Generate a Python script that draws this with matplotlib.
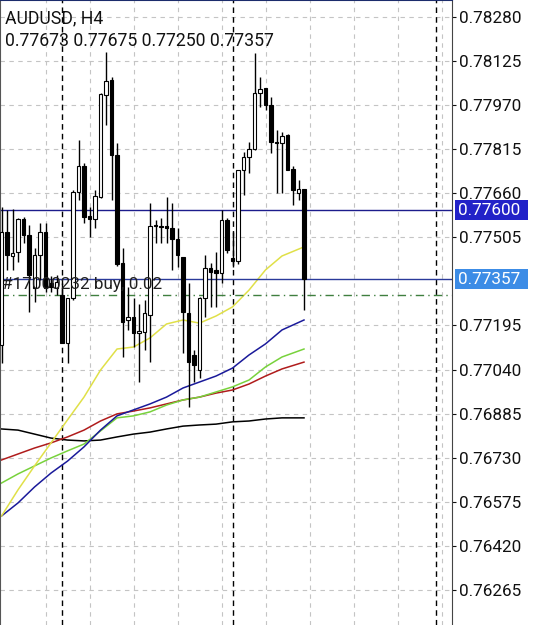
import matplotlib
matplotlib.use("Agg")
import matplotlib.pyplot as plt
import numpy as np
from matplotlib.patches import Rectangle

plt.rcParams['font.family'] = ['Roboto', 'DejaVu Sans']

# AUDUSD H4 candles (open, high, low, close)
opens = [0.77126, 0.77523, 0.77439, 0.77453, 0.77569, 0.77513, 0.77326, 0.77442,
         0.77523, 0.77344, 0.77326, 0.77302, 0.77133, 0.77291, 0.77664, 0.77755,
         0.77580, 0.77569, 0.77646, 0.78005, 0.78058, 0.77794, 0.77414, 0.77214,
         0.77225, 0.77168, 0.77172, 0.77232, 0.77548, 0.77544, 0.77544, 0.77537,
         0.77499, 0.77435, 0.77239, 0.77091, 0.77038, 0.77291, 0.77397, 0.77390,
         0.77379, 0.77565, 0.77432, 0.77421, 0.77741, 0.77787, 0.77815, 0.78012,
         0.78029, 0.77970, 0.77840, 0.77836, 0.77864, 0.77745, 0.77660, 0.77673]
highs = [0.77611, 0.77601, 0.77604, 0.77573, 0.77576, 0.77548, 0.77467, 0.77555,
         0.77555, 0.77369, 0.77372, 0.77344, 0.77291, 0.77671, 0.77847, 0.77766,
         0.77611, 0.77671, 0.78012, 0.78156, 0.78068, 0.77836, 0.77467, 0.77330,
         0.77291, 0.77270, 0.77284, 0.77625, 0.77565, 0.77573, 0.77646, 0.77625,
         0.77537, 0.77435, 0.77344, 0.77109, 0.77295, 0.77442, 0.77414, 0.77453,
         0.77601, 0.77573, 0.77523, 0.77741, 0.77804, 0.77840, 0.78152, 0.78068,
         0.78031, 0.77998, 0.77882, 0.77875, 0.77866, 0.77755, 0.77706, 0.77675]
lows = [0.77063, 0.77390, 0.77390, 0.77418, 0.77485, 0.77242, 0.77277, 0.77355,
        0.77312, 0.77312, 0.77302, 0.77133, 0.77063, 0.77284, 0.77636, 0.77555,
        0.77506, 0.77537, 0.77643, 0.77899, 0.77636, 0.77404, 0.77084, 0.77179,
        0.77119, 0.76996, 0.77109, 0.77066, 0.77485, 0.77485, 0.77485, 0.77390,
        0.77400, 0.77098, 0.76908, 0.76996, 0.77010, 0.77225, 0.77260, 0.77260,
        0.77344, 0.77449, 0.77400, 0.77411, 0.77653, 0.77731, 0.77812, 0.77963,
        0.77952, 0.77801, 0.77660, 0.77660, 0.77741, 0.77618, 0.77636, 0.77250]
closes = [0.77523, 0.77442, 0.77449, 0.77569, 0.77513, 0.77372, 0.77442, 0.77523,
          0.77326, 0.77330, 0.77348, 0.77133, 0.77291, 0.77664, 0.77755, 0.77576,
          0.77569, 0.77650, 0.78008, 0.78054, 0.77794, 0.77411, 0.77207, 0.77225,
          0.77168, 0.77175, 0.77239, 0.77544, 0.77544, 0.77541, 0.77537, 0.77499,
          0.77442, 0.77242, 0.77066, 0.77056, 0.77291, 0.77397, 0.77383, 0.77379,
          0.77565, 0.77460, 0.77421, 0.77741, 0.77787, 0.77815, 0.78012, 0.78026,
          0.77970, 0.77840, 0.77836, 0.77861, 0.77741, 0.77671, 0.77674, 0.77357]

# moving averages read at these bar indices
ma_idx = [0, 3, 6, 9, 12, 15, 18, 21, 24, 27, 30, 33, 36, 39, 42, 45, 48, 51, 55]
ma_yellow = [0.76525, 0.76617, 0.76701, 0.76782, 0.76863, 0.76943, 0.77038, 0.77112,
             0.77119, 0.77151, 0.77200, 0.77214, 0.77203, 0.77228, 0.77260, 0.77319,
             0.77390, 0.77439, 0.77471]
ma_blue = [0.76525, 0.76571, 0.76627, 0.76676, 0.76718, 0.76768, 0.76827, 0.76877,
           0.76898, 0.76919, 0.76943, 0.76975, 0.76996, 0.77017, 0.77045, 0.77091,
           0.77130, 0.77179, 0.77214]
ma_green = [0.76641, 0.76673, 0.76701, 0.76729, 0.76754, 0.76778, 0.76824, 0.76870,
            0.76877, 0.76891, 0.76915, 0.76933, 0.76943, 0.76961, 0.76979, 0.77003,
            0.77049, 0.77084, 0.77112]
ma_red = [0.76722, 0.76743, 0.76764, 0.76782, 0.76803, 0.76827, 0.76859, 0.76884,
          0.76894, 0.76905, 0.76919, 0.76933, 0.76943, 0.76957, 0.76968, 0.76989,
          0.77017, 0.77042, 0.77066]
ma_black = [0.76831, 0.76827, 0.76813, 0.76799, 0.76792, 0.76789, 0.76792, 0.76803,
            0.76813, 0.76820, 0.76831, 0.76841, 0.76845, 0.76848, 0.76856, 0.76859,
            0.76866, 0.76870, 0.76870]

price_ticks = [0.78280, 0.78125, 0.77970, 0.77815, 0.77660, 0.77505, 0.77195,
               0.77040, 0.76885, 0.76730, 0.76575, 0.76420, 0.76265]
week_starts = [11, 42, 79]
level_line = 0.77600
bid = 0.77357
order_price = 0.77302
order_text = "#17000232 buy, 0.02"
title = "AUDUSD, H4"
ohlc_text = "0.77673 0.77675 0.77250 0.77357"

W, H = 542, 625
fig = plt.figure(figsize=(W / 100, H / 100), dpi=100)
ax = fig.add_axes([0, 0, 452 / W, 1])

n = len(opens)
x = np.arange(n)
o = np.array(opens); c = np.array(closes)
hi = np.array(highs); lo = np.array(lows)

# grid
for gx in range(8, 82, 8):
    ax.axvline(gx, color='#c4c4c4', lw=0.8, ls=(0, (4, 4)), zorder=0)
for gy in price_ticks:
    ax.axhline(gy, color='#c4c4c4', lw=0.8, ls=(0, (4, 4)), zorder=0)
for ws in week_starts:
    ax.axvline(ws, color='black', lw=1.0, ls=(0, (4, 3)), zorder=1)

# candles
ax.vlines(x, lo, hi, color='black', lw=1.0, zorder=3)
up = c >= o
body_bot = np.minimum(o, c)
body_h = np.maximum(np.abs(c - o), 0.00003)
ax.bar(x[up], body_h[up], bottom=body_bot[up], width=0.62, color='white',
       edgecolor='black', linewidth=0.8, zorder=4)
ax.bar(x[~up], body_h[~up], bottom=body_bot[~up], width=0.62, color='black',
       edgecolor='black', linewidth=0.8, zorder=4)

# moving averages
ax.plot(ma_idx, ma_black, color='black', lw=1.1, zorder=2)
ax.plot(ma_idx, ma_red, color='#b01c1c', lw=1.1, zorder=2)
ax.plot(ma_idx, ma_green, color='#78d23c', lw=1.1, zorder=2)
ax.plot(ma_idx, ma_blue, color='#1a1a9a', lw=1.1, zorder=2)
ax.plot(ma_idx, ma_yellow, color='#e0e048', lw=1.1, zorder=2)

# horizontal levels
ax.axhline(level_line, color='#1c1c8c', lw=1.0, zorder=2)
ax.axhline(bid, color='#2a3a9a', lw=1.0, zorder=2)
ax.axhline(order_price, color='#3f7f3f', lw=1.0, ls=(0, (6, 3, 1, 3)), zorder=2)
ax.text(0.3 / 5.5, order_price + 0.00012, order_text, fontsize=12.3,
        color='#202020', va='bottom', ha='left', zorder=6)

ax.set_xlim(-1.5 / 5.5, (452 - 1.5) / 5.5)
ax.set_ylim(0.761420, 0.783387)
ax.set_xticks([])
ax.yaxis.tick_right()
ax.set_yticks(price_ticks)
ax.set_yticklabels([f"{t:.5f}" for t in price_ticks])
ax.tick_params(axis='y', direction='out', length=3, width=0.8, pad=2,
               labelsize=12.3, colors='#111111')
for s in ['bottom']:
    ax.spines[s].set_visible(False)
ax.spines['right'].set_color('#444444')
ax.spines['left'].set_color('#555555')
ax.spines['top'].set_color('#1c2c6c')
ax.spines['top'].set_linewidth(1.5)

# title texts
ax.text(5 / 452, 1 - 18 / H, title, transform=ax.transAxes, fontsize=12.7,
        va='center', ha='left', color='#111111')
ax.text(5 / 452, 1 - 41 / H, ohlc_text, transform=ax.transAxes, fontsize=12.7,
        va='center', ha='left', color='#111111')

# price tags on the scale
def tag(price, color):
    yf = (price - 0.761420) / (0.783387 - 0.761420)
    h = 20 / H
    fig.patches.append(Rectangle((455 / W, yf - h / 2), 73 / W, h,
                                 transform=fig.transFigure, facecolor=color,
                                 edgecolor='none', zorder=5))
    fig.text(458 / W, yf, f"{price:.5f}", color='white', fontsize=12.3,
             va='center', ha='left', zorder=6)

tag(level_line, '#2222c8')
tag(bid, '#3c8ce6')

fig.savefig("out.png", dpi=100)
